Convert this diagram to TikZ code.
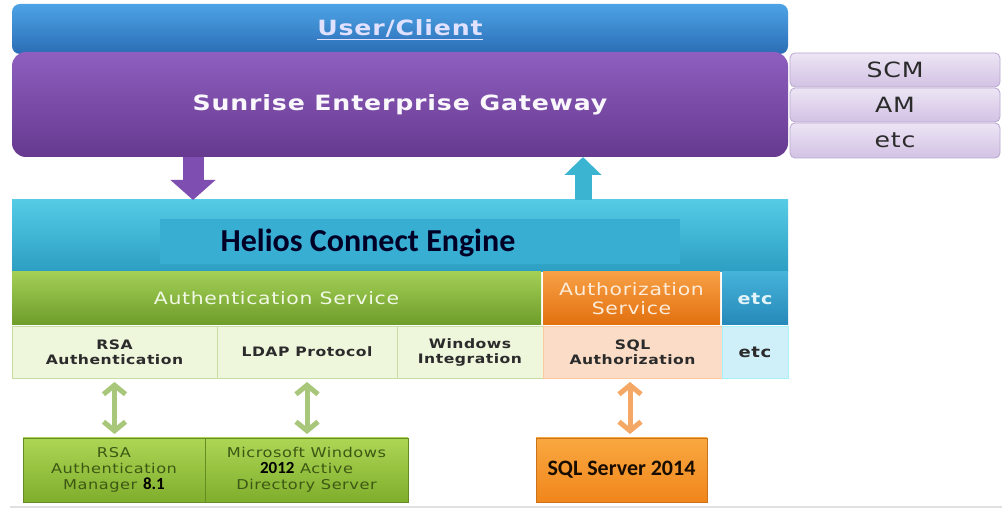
\documentclass[tikz,border=0pt]{standalone}
\usepackage{fontspec}
\setmainfont{DejaVu Sans}
\newfontfamily\calib{Carlito}
\newfontfamily\vsans[FakeStretch=1.2,LetterSpace=4]{DejaVu Sans}
\usetikzlibrary{arrows.meta}
\definecolor{usrtop}{HTML}{4DA3E6}
\definecolor{usrbot}{HTML}{2A6DB5}
\definecolor{gwtop}{HTML}{8E5FBF}
\definecolor{gwbot}{HTML}{66398F}
\definecolor{lavtop}{HTML}{EDE5F5}
\definecolor{lavbot}{HTML}{D2C2E4}
\definecolor{lavline}{HTML}{B9A7D0}
\definecolor{heltop}{HTML}{55CBE6}
\definecolor{helbot}{HTML}{2C9EC2}
\definecolor{helin}{HTML}{38AED2}
\definecolor{grtop}{HTML}{A3CF55}
\definecolor{grbot}{HTML}{6E9C2A}
\definecolor{ortop}{HTML}{F7A045}
\definecolor{orbot}{HTML}{E2700F}
\definecolor{bltop}{HTML}{45B3DA}
\definecolor{blbot}{HTML}{2688B8}
\definecolor{lgreen}{HTML}{EEF6DC}
\definecolor{lgline}{HTML}{C9DCA4}
\definecolor{lorange}{HTML}{FBDCC6}
\definecolor{lblue}{HTML}{CFEFF9}
\definecolor{bgtop}{HTML}{ADD655}
\definecolor{bgbot}{HTML}{7FAE2C}
\definecolor{sqtop}{HTML}{F9A840}
\definecolor{sqbot}{HTML}{F0861C}
\definecolor{garrow}{HTML}{A8C77A}
\definecolor{oarrow}{HTML}{F5A865}
\definecolor{parrow}{HTML}{7E4EB0}
\definecolor{tarrow}{HTML}{3BB4D2}
\definecolor{darktext}{HTML}{2B2B2B}
\definecolor{olive}{HTML}{3D5814}
\begin{document}
\begin{tikzpicture}[x=1pt,y=-1pt,
  blk/.style={draw=none, inner sep=0pt, outer sep=0pt, anchor=north west, align=center},
  cell/.style={blk, draw=lgline, line width=0.8pt, text=darktext,
     font=\vsans\bfseries\fontsize{13}{15}\selectfont},
  dbl/.style={line width=5pt, {Straight Barb[length=9pt,width=22pt,line width=5pt]}-{Straight Barb[length=9pt,width=22pt,line width=5pt]}, shorten <=4pt, shorten >=4pt},
  bottombox/.style={blk, draw=bgbot!80!black, line width=0.6pt, top color=bgtop, bottom color=bgbot,
     text=olive, font=\vsans\fontsize{13.5}{16}\selectfont},
  side/.style={blk, draw=lavline, line width=0.8pt, rounded corners=5pt, top color=lavtop, bottom color=lavbot,
     minimum width=210pt, text=darktext, font=\vsans\fontsize{21}{22}\selectfont}
]
\useasboundingbox[fill=white] (0,0) rectangle (1002,510);

% top bars
\node[blk, rounded corners=8pt, top color=usrtop, bottom color=usrbot, minimum width=776pt, minimum height=50pt] (usr) at (12,4) {};
\node[text=white!88!blue, font=\vsans\bfseries\fontsize{21}{24}\selectfont, inner sep=0pt] (usrt) at (400,30) {\underline{User/Client}};
\node[blk, rounded corners=14pt, top color=gwtop, bottom color=gwbot, minimum width=776pt, minimum height=105pt,
  text=white!95!gwtop, font=\vsans\bfseries\fontsize{21}{24}\selectfont] (gw) at (12,52) {Sunrise Enterprise Gateway};

% side boxes
\node[side, minimum height=34pt] (scm) at (790,53) {SCM};
\node[side, minimum height=34pt] (am) at (790,88) {AM};
\node[side, minimum height=35pt] (etc1) at (790,123) {etc};

% Helios engine
\node[blk, top color=heltop, bottom color=helbot, minimum width=776pt, minimum height=72pt] (hel) at (12,200) {};
\fill[helin] (160,219) rectangle (680,264);
\node[font=\calib\bfseries\fontsize{32}{34}\selectfont, text=black!85!blue, inner sep=0pt] (helt) at (368,243) {Helios Connect Engine};

% service row
\node[blk, top color=grtop, bottom color=grbot, minimum width=529pt, minimum height=53pt,
  text=white!85!grtop, font=\vsans\fontsize{17}{19}\selectfont] (auth) at (12,272) {Authentication Service};
\node[blk, top color=ortop, bottom color=orbot, minimum width=177pt, minimum height=53pt,
  text=white!80!ortop, font=\vsans\fontsize{17}{19}\selectfont] (authz) at (543,272) {Authorization\\Service};
\node[blk, top color=bltop, bottom color=blbot, minimum width=66pt, minimum height=53pt,
  text=white!85!bltop, font=\vsans\bfseries\fontsize{16}{18}\selectfont] (etc2) at (722,272) {etc};

% detail row
\node[cell, fill=lgreen, minimum width=205pt, minimum height=52pt] (rsa) at (12,326) {RSA\\Authentication};
\node[cell, fill=lgreen, minimum width=180pt, minimum height=52pt] (ldap) at (217,326) {LDAP Protocol};
\node[cell, fill=lgreen, minimum width=146pt, minimum height=52pt] (win) at (397,326) {Windows\\Integration};
\node[cell, draw=lorange!80!orange, fill=lorange, minimum width=179pt, minimum height=52pt] (sqla) at (543,326) {SQL\\Authorization};
\node[cell, draw=lblue!80!cyan, fill=lblue, minimum width=66pt, minimum height=52pt,
  font=\vsans\bfseries\fontsize{15}{17}\selectfont] (etc3) at (722,326) {etc};

% bottom boxes
\node[bottombox, minimum width=182pt, minimum height=64pt] (rsam) at (23,438)
  {RSA\\Authentication\\Manager {\calib\bfseries\fontsize{17}{16}\selectfont\color{black}8.1}};
\node[bottombox, minimum width=203pt, minimum height=64pt] (msad) at (205,438)
  {Microsoft Windows\\{\calib\bfseries\fontsize{17}{16}\selectfont\color{black}2012} Active\\Directory Server};
\node[blk, draw=sqbot!85!black, line width=0.6pt, top color=sqtop, bottom color=sqbot, minimum width=171pt, minimum height=64pt,
  text=black!90!orange, font=\calib\bfseries\fontsize{22}{24}\selectfont] (sqls) at (536,438) {SQL Server 2014};

% block arrows
\coordinate (pd) at (193,0);
\coordinate (tu) at (583,0);
\draw[parrow, line width=21pt, -{Triangle[length=20pt,width=44pt]}] (gw.south -| pd) -- (hel.north -| pd);
\draw[tarrow, line width=17pt, -{Triangle[length=18pt,width=36pt]}] (hel.north -| tu) -- (gw.south -| tu);

% double arrows
\draw[dbl, garrow] (rsa.south) -- (rsam.north -| rsa.south);
\draw[dbl, garrow] (ldap.south) -- (msad.north -| ldap.south);
\coordinate (oa) at (630,0);
\draw[dbl, oarrow] (sqla.south -| oa) -- (sqls.north -| oa);

% baseline
\draw[black!12, line width=1.5pt] (10,507) -- (1002,507);
\end{tikzpicture}
\end{document}
